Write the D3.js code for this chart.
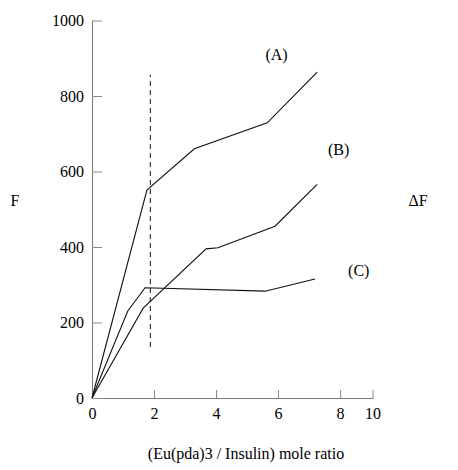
<!DOCTYPE html>
<html><head><meta charset="utf-8">
<script src="https://cdnjs.cloudflare.com/ajax/libs/d3/7.8.5/d3.min.js"></script>
<style>body{margin:0;background:#fff}text{font-family:"Liberation Serif",serif;font-size:16px}</style>
</head><body><svg id="c" width="458" height="470"></svg>
<script>
var seriesA = [[0,0],[1.77,551],[3.3,660],[5.65,729],[7.26,863]];
var seriesB = [[0,0],[1.65,238],[3.68,395],[4.06,398],[5.9,455],[7.26,566]];
var seriesC = [[0,0],[1.15,230],[1.71,292],[5.58,283],[7.19,315]];
var dashed = [[1.88,135],[1.88,857]];
var xTicks = [0,2,4,6,8];
var yTicks = [0,200,400,600,800,1000];
var seriesLabels = [{t:'(A)',x:5.95,y:912},{t:'(B)',x:7.95,y:660},{t:'(C)',x:8.6,y:340}];

var svg = d3.select('#c');
var x = d3.scaleLinear().domain([0,9.06]).range([92,373]);
var y = d3.scaleLinear().domain([0,1000]).range([398,20.5]);
var serif = '"Liberation Serif", serif';

var xa = svg.append('g').attr('transform','translate(0,398)')
    .call(d3.axisBottom(x).tickValues(xTicks).tickFormat(d3.format('d')).tickSize(-8).tickPadding(10).tickSizeOuter(0));
// end tick labelled 10
var end = xa.append('g').attr('class','tick').attr('transform','translate(373,0)');
end.append('line').attr('y2',-8);
end.append('text').attr('y',10).attr('dy','0.71em').attr('text-anchor','middle').text('10');

var ya = svg.append('g').attr('transform','translate(92,0)')
    .call(d3.axisLeft(y).tickValues(yTicks).tickFormat(d3.format('d')).tickSize(-10).tickPadding(8).tickSizeOuter(0));
svg.selectAll('g').attr('font-family',serif).attr('font-size',16);
svg.selectAll('.tick line').attr('stroke','#888');
svg.selectAll('.tick text').attr('fill','#000');
svg.selectAll('.domain').attr('stroke','#777');

var line = d3.line().x(function(d){return x(d[0]);}).y(function(d){return y(d[1]);});
[seriesA,seriesB,seriesC].forEach(function(s){
    svg.append('path').attr('d',line(s)).attr('fill','none').attr('stroke','#111').attr('stroke-width',1.1);
});
svg.append('path').attr('d',line(dashed)).attr('fill','none').attr('stroke','#111').attr('stroke-dasharray','5,4');

seriesLabels.forEach(function(l){
    svg.append('text').attr('x',x(l.x)).attr('y',y(l.y)+6).attr('text-anchor','middle').text(l.t);
});
svg.append('text').attr('x',15).attr('y',206).attr('text-anchor','middle').text('F');
svg.append('text').attr('x',418).attr('y',206).attr('text-anchor','middle').text('\u0394F');
svg.append('text').attr('x',246).attr('y',459).attr('text-anchor','middle').text('(Eu(pda)3 / Insulin) mole ratio');
</script></body></html>
